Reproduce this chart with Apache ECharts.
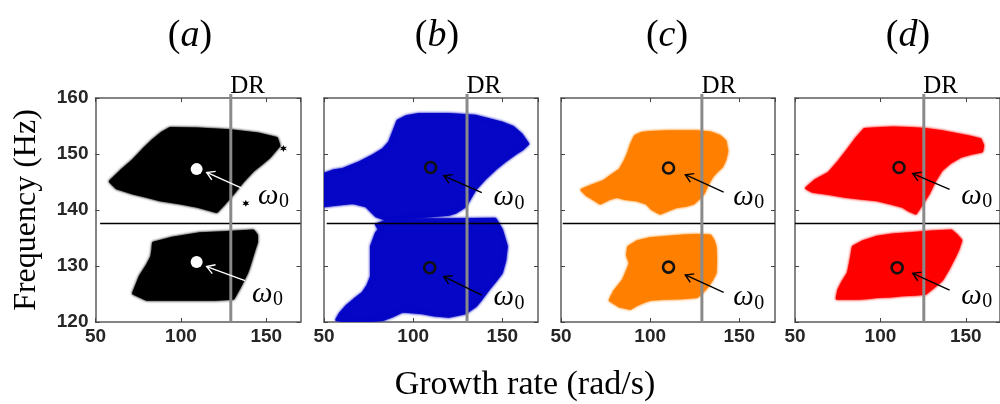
<!DOCTYPE html>
<html>
<head>
<meta charset="utf-8">
<script src="https://cdn.jsdelivr.net/npm/echarts@6/dist/echarts.min.js"></script>
<style>
html,body{margin:0;padding:0;background:#fff;}
#chart{width:1000px;height:404px;}
</style>
</head>
<body>
<div id="chart"></div>
<script>
// ---------- data ----------
const panelLetters = ['a', 'b', 'c', 'd'];
const xTickValues = [50, 100, 150];
const yTickValues = [120, 130, 140, 150, 160];
const cloudColors = ['#000000', '#0606c6', '#ff8000', '#ff0000'];
const drValues = [129.2, 130.2, 129.0, 125.4];
const splitFrequency = 137.6;

// cloud outlines [growth rate, frequency]
const upperA = [[58.5,145.1],[65,147],[72.1,148.9],[78,150.8],[83.8,152.5],[89,153.8],[93.6,154.6],[110,154.5],[128.7,154.2],[145,153.6],[156.1,152.8],[157.5,151.5],[152,149.5],[147,148.2],[142.4,147.1],[136,145],[130.7,143],[125,141],[121,139.7],[110,140.6],[100,141.2],[87.8,141.8],[80,142.4],[72.1,143],[62.4,143.9]];
const lowerA = [[83.8,134.1],[95,135],[111.2,135.8],[125,136],[142.4,136.3],[144.4,135.5],[144.4,134.3],[142,132],[140,130],[138.5,128.7],[134,126],[130.7,124.2],[120,124],[100,124],[80,124],[72.1,125.1],[76,128.1],[80,130],[82.9,131.7],[83.5,133]];
const upperB = [[50,146.4],[55,147],[60.7,147.3],[70,148.5],[77.4,149.7],[83,150.8],[86.7,152.1],[89,154],[91.3,155.9],[96,156.7],[103.3,157.1],[120,157.1],[134.8,156.8],[149.6,155.6],[156,154.8],[160.7,153.5],[164.4,151.8],[161,150.8],[157,150],[151,148.6],[146,147.3],[140,145.5],[134.8,143.7],[129.3,140.7],[124,139.6],[120,139.2],[108.9,138.9],[97.8,138.6],[84.8,138.3],[79.3,138.9],[73.7,140.7],[66.3,141.3],[57,141],[50,140.7]];
const lowerB = [[79.3,137.4],[85.4,138.1],[100,138.3],[120,138.3],[146,138.4],[149.6,136.5],[152.4,133.5],[151.5,131],[149.6,128.8],[146,127.3],[142.2,125.8],[138,124],[134.8,122.8],[129.3,121.6],[120,121],[112,121.2],[105.2,121.6],[94,121.9],[88,121],[82.9,120.4],[72,120.1],[64.4,120],[57,120.4],[59,121.5],[62.6,122.8],[67,124],[71.8,125.2],[74.5,126.5],[76.5,128.1],[76.5,131],[76.5,133.5],[79.3,135.9],[81,136.5]];
const upperC = [[61.6,143.6],[67,144.3],[73.8,145.1],[79,146.3],[83.1,147.2],[86,148.8],[87.8,150.2],[89.5,151.8],[91.6,153.2],[95,153.7],[100,153.9],[110,154],[118.7,154],[126,154],[133.7,153.8],[139,153.2],[142.1,152.3],[143.1,150.5],[142,149],[140.3,147.8],[137,146.8],[134.7,146],[132,144.5],[129.9,143],[127,142],[124.3,141.2],[120,140.8],[115,140.6],[110,140],[105.6,139.4],[101,140.2],[98.1,141.2],[92,141.8],[86,142],[81.3,142.4],[77,142],[71.9,141.2],[68,142],[64.4,142.7]];
const lowerC = [[87.8,133.4],[93,134.4],[100,134.9],[110,135.2],[118.7,135.4],[126,135.5],[133.7,135.4],[135.5,134.5],[136.5,133.4],[136.8,131],[136.5,128.7],[134.5,127.5],[131.9,126.3],[129,125.3],[126.2,124.5],[118,124.3],[107.5,124.2],[100,124],[96.2,123.6],[92,123],[88.8,122.4],[83,122.8],[77.5,123.9],[80,125.5],[85,127.5],[87,129],[88.8,130.5],[87.2,131.9]];
const upperD = [[56.6,143.9],[62,145.3],[69.8,146.6],[76,148.8],[81.1,150.8],[86,152.8],[90.6,154.4],[100,154.6],[107.6,154.7],[117,154.6],[126.4,154.4],[136,154],[145.2,153.5],[152,153.1],[158.5,152.6],[160,151.5],[159.4,150.5],[153,150.1],[147.2,149.6],[141,148.5],[135.9,147.2],[132,145.3],[128.3,143],[124.5,141.2],[120.7,139.4],[117,139.9],[113.2,140.6],[106,141.2],[98.1,141.8],[88,142.1],[79.3,142.4],[70,142.9],[60.4,143.3]];
const lowerD = [[84,133.4],[90,134.4],[98.1,135.2],[107,135.6],[116.9,135.8],[130,136.1],[141.5,136.3],[144.5,135.5],[147.2,134.6],[145.5,133],[143.4,131.6],[140,129.6],[135.9,127.5],[131,126.2],[126.4,125.1],[120,124.9],[113.2,124.8],[106,124.6],[98.1,124.5],[92,124.3],[86.8,124.2],[80,124.2],[74.5,124.2],[75.5,125.7],[78,127.2],[81.1,128.7],[82,130],[83,131.6]];
const outliersA = [[160,151],[138,141.2]];

// omega_0 points, arrows [tipX, tipY, tailX, tailY], label anchors
const omegaA = [[109.2,147.3],[109.2,130.7]];
const omegaB = [[109.8,147.6],[109.3,129.7]];
const omegaC = [[110.3,147.5],[110.3,129.8]];
const omegaD = [[110.9,147.6],[109.8,129.7]];
const arrowsA = [[115.1,146.7,135.6,143.9],[115.1,129.9,137.5,127.4]];
const arrowsB = [[117.2,146.1,138.5,143.1],[117.2,128.1,138.5,124.8]];
const arrowsC = [[119.7,146.3,141.2,143.2],[119.7,128.4,141.2,125.3]];
const arrowsD = [[118.9,146.5,140.5,143.7],[118.9,128.7,140.5,125.7]];
const labelsA = [[145.1,141.8],[141.6,124.3]];
const labelsB = [[145,141.5],[145,123.6]];
const labelsC = [[146.6,141.6],[146.6,123.7]];
const labelsD = [[147.3,141.8],[147.3,123.9]];

const clouds = [[upperA, lowerA], [upperB, lowerB], [upperC, lowerC], [upperD, lowerD]];
const omegas = [omegaA, omegaB, omegaC, omegaD];
const arrows = [arrowsA, arrowsB, arrowsC, arrowsD];
const omegaLabels = [labelsA, labelsB, labelsC, labelsD];

// ---------- layout ----------
const grids = [
  {left: 95.5, top: 98, width: 205, height: 224},
  {left: 324, top: 98, width: 214, height: 224},
  {left: 561, top: 98, width: 214, height: 224},
  {left: 795, top: 98, width: 212, height: 224}
];
const titleCenters = [190, 437, 667, 908];
const lineStart = [52.7, 51.5, 51, 50];
const arrowColors = ['#ffffff', '#000000', '#000000', '#000000'];

const tickFont = {fontFamily: 'Liberation Sans', fontWeight: 'bold', fontSize: 19, color: '#262626'};
const boxLine = {color: '#5c5c5c', width: 1.5};

const xAxes = [], yAxes = [], series = [];
grids.forEach(function (g, i) {
  ['bottom', 'top'].forEach(function (pos) {
    xAxes.push({
      gridIndex: i, type: 'value', min: 50, max: 170, interval: 50, position: pos,
      axisLine: {show: true, onZero: false, lineStyle: boxLine},
      axisTick: {show: true, inside: true, length: 4, lineStyle: {color: '#444', width: 1}},
      axisLabel: {show: pos === 'bottom', margin: 5, showMaxLabel: false,
        formatter: function (v) { return xTickValues.indexOf(v) >= 0 ? String(v) : ''; },
        ...tickFont},
      splitLine: {show: false}
    });
  });
  ['left', 'right'].forEach(function (pos) {
    yAxes.push({
      gridIndex: i, type: 'value', min: 120, max: 160, interval: 10, position: pos,
      axisLine: {show: true, onZero: false, lineStyle: boxLine},
      axisTick: {show: true, inside: true, length: 4, lineStyle: {color: '#444', width: 1}},
      axisLabel: {show: pos === 'left' && i === 0, margin: 7,
        formatter: function (v) { return yTickValues.indexOf(v) >= 0 ? String(v) : ''; },
        ...tickFont},
      splitLine: {show: false},
      name: (pos === 'left' && i === 0) ? 'Frequency (Hz)' : '',
      nameLocation: 'middle', nameGap: 53,
      nameTextStyle: {fontFamily: 'Liberation Serif', fontSize: 32, color: '#000'}
    });
  });

  // clouds
  clouds[i].forEach(function (pts) {
    series.push({
      type: 'custom', xAxisIndex: i * 2, yAxisIndex: i * 2, clip: true, silent: true, z: 2,
      data: [0],
      renderItem: function (params, api) {
        const points = pts.map(function (p) { return api.coord(p); });
        return {type: 'polygon', shape: {points: points},
          style: {fill: cloudColors[i], stroke: cloudColors[i], lineWidth: 2.5, lineJoin: 'round',
            shadowColor: cloudColors[i], shadowBlur: 3}};
      }
    });
  });

  // annotations
  series.push({
    type: 'custom', xAxisIndex: i * 2, yAxisIndex: i * 2, clip: false, silent: true, z: 5,
    data: [0],
    renderItem: function (params, api) {
      const ch = [];
      const h0 = api.coord([lineStart[i], splitFrequency]);
      const h1 = api.coord([170, splitFrequency]);
      ch.push({type: 'line', shape: {x1: h0[0], y1: h0[1], x2: h1[0], y2: h1[1]},
        style: {stroke: '#000', lineWidth: 1.5}});
      const d0 = api.coord([drValues[i], 120]);
      const d1 = api.coord([drValues[i], 160]);
      ch.push({type: 'line', shape: {x1: d0[0], y1: d0[1], x2: d1[0], y2: d1[1] - 4},
        style: {stroke: '#8a8a8a', lineWidth: 3}});
      ch.push({type: 'text', x: d1[0] - 0.5, y: d1[1] + 1,
        style: {text: 'DR', font: '25px "Liberation Serif"', fill: '#000', align: 'left', verticalAlign: 'bottom'}});
      arrows[i].forEach(function (a) {
        const tip = api.coord([a[0], a[1]]);
        const tail = api.coord([a[2], a[3]]);
        const ang = Math.atan2(tail[1] - tip[1], tail[0] - tip[0]);
        const L = 9, sp = 0.55;
        ch.push({type: 'line', shape: {x1: tail[0], y1: tail[1], x2: tip[0], y2: tip[1]},
          style: {stroke: arrowColors[i], lineWidth: 1.4}});
        ch.push({type: 'polyline', shape: {points: [
            [tip[0] + L * Math.cos(ang + sp), tip[1] + L * Math.sin(ang + sp)],
            [tip[0], tip[1]],
            [tip[0] + L * Math.cos(ang - sp), tip[1] + L * Math.sin(ang - sp)]]},
          style: {stroke: arrowColors[i], lineWidth: 1.4, fill: null}});
      });
      omegaLabels[i].forEach(function (p) {
        const c = api.coord(p);
        ch.push({type: 'text', x: c[0], y: c[1] - 4,
          style: {text: 'ω', font: 'italic 29px "Liberation Serif"', fill: '#000', align: 'left', verticalAlign: 'middle'}});
        ch.push({type: 'text', x: c[0] + 21, y: c[1] + 2,
          style: {text: '0', font: '20px "Liberation Serif"', fill: '#000', align: 'left', verticalAlign: 'middle'}});
      });
      return {type: 'group', children: ch};
    }
  });

  // omega_0 markers
  series.push({
    type: 'scatter', xAxisIndex: i * 2, yAxisIndex: i * 2, z: 6, silent: true,
    data: omegas[i],
    symbol: 'circle',
    symbolSize: i === 0 ? 12 : 11,
    itemStyle: i === 0 ? {color: '#ffffff', opacity: 1} : {color: 'rgba(0,0,0,0)', borderColor: '#111', borderWidth: 2.6, opacity: 1}
  });
});

series.push({
  type: 'scatter', xAxisIndex: 0, yAxisIndex: 0, z: 3, silent: true,
  data: outliersA,
  symbol: 'path://M0,-10 L2.5,-4 L9,-5 L4.5,0 L9,5 L2.5,4 L0,10 L-2.5,4 L-9,5 L-4.5,0 L-9,-5 L-2.5,-4 Z',
  symbolSize: 7, itemStyle: {color: '#000', opacity: 1}
});

const graphics = [];
titleCenters.forEach(function (cx, i) {
  graphics.push({type: 'text', x: cx, y: 36, silent: true,
    style: {text: '{p|(}{i|' + panelLetters[i] + '}{p|)}', align: 'center', verticalAlign: 'middle',
      rich: {p: {fontFamily: 'Liberation Serif', fontSize: 38, fill: '#000'},
             i: {fontFamily: 'Liberation Serif', fontSize: 38, fontStyle: 'italic', fill: '#000'}}}});
});
graphics.push({type: 'text', x: 525, y: 385, silent: true,
  style: {text: 'Growth rate (rad/s)', font: '34px "Liberation Serif"', fill: '#000', align: 'center', verticalAlign: 'middle'}});

const chart = echarts.init(document.getElementById('chart'), null, {renderer: 'canvas'});
chart.setOption({
  animation: false,
  backgroundColor: '#ffffff',
  grid: grids.map(function (g) { return Object.assign({containLabel: false, show: false}, g); }),
  xAxis: xAxes,
  yAxis: yAxes,
  series: series,
  graphic: graphics
});
</script>
</body>
</html>
